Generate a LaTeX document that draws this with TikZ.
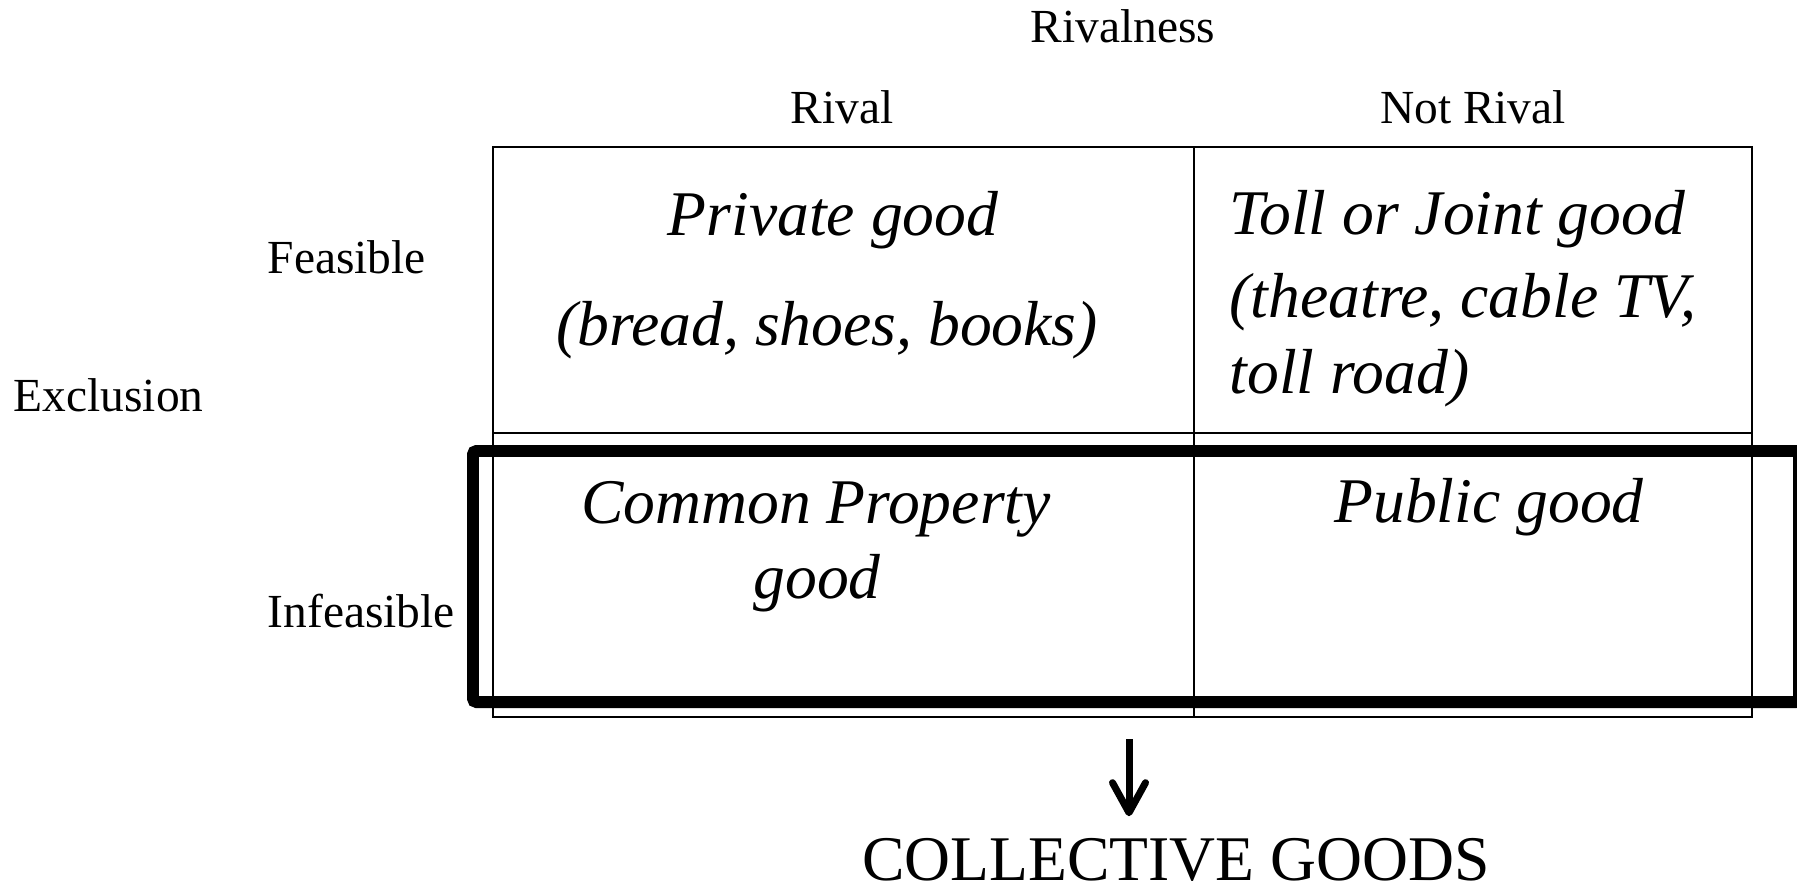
\documentclass[tikz,border=0pt]{standalone}
\usepackage{fontspec}
\setmainfont{Liberation Serif}
\usetikzlibrary{arrows.meta,positioning}

\begin{document}
\begin{tikzpicture}[x=1mm,y=-1mm]

  \tikzset{
    axislabel/.style = {inner sep=0pt, font=\fontsize{13.5}{16}\selectfont},
    celltext/.style  = {inner sep=0pt, font=\fontsize{18.1}{22}\selectfont\itshape},
    gridline/.style  = {line width=0.6pt},
    collbox/.style   = {line width=3.4pt, rounded corners=1pt},
    downarrow/.style = {line width=2pt,
      -{Straight Barb[length=3mm,width=3.3mm,round]}}}

  \useasboundingbox (0,0) rectangle (179.7,89.4);

  % table
  \draw[gridline] (49.3,14.7) rectangle (175.2,71.7);
  \draw[gridline] (49.3,43.3) -- (175.2,43.3);
  \draw[gridline] (119.4,14.7) -- (119.4,71.7);

  % headings
  \node[axislabel, anchor=base] (rivalness) at (112.3,4.2) {Rivalness};
  \node[axislabel, anchor=base] (rival)     at (84.2,12.3) {Rival};
  \node[axislabel, anchor=base] (notrival)  at (147.3,12.3) {Not Rival};
  \node[axislabel, anchor=base west] (exclusion)  at (1.3,41.1) {Exclusion};
  \node[axislabel, anchor=base west] (feasible)   at (26.7,27.3) {Feasible};
  \node[axislabel, anchor=base west] (infeasible) at (26.7,62.7) {Infeasible};

  % cells
  \node[celltext, anchor=base] (private)  at (83.3,23.5) {Private good};
  \node[celltext, anchor=base] (privateex) at (82.7,34.5) {(bread, shoes, books)};
  \node[celltext, anchor=base west] (toll)    at (122.9,23.4) {Toll or Joint good};
  \node[celltext, anchor=base west] (tollex)  at (122.9,31.7) {(theatre, cable TV,};
  \node[celltext, anchor=base west] (tollexb) at (122.9,39.3) {toll road)};
  \node[celltext, anchor=base] (common)  at (81.6,52.3) {Common Property};
  \node[celltext, anchor=base] (commonb) at (81.7,59.8) {good};
  \node[celltext, anchor=base] (public)  at (148.9,52.2) {Public good};

  % collective goods
  \draw[collbox] (47.3,45.1) rectangle (179.9,70.2);
  \node[inner sep=0pt, anchor=base, font=\fontsize{18.1}{22}\selectfont]
    (collective) at (117.6,88.0) {COLLECTIVE GOODS};
  \coordinate (arrowtop) at (112.9,73.9);
  \draw[downarrow, shorten >=2.1mm] (arrowtop) -- (arrowtop |- collective.north);

\end{tikzpicture}
\end{document}
